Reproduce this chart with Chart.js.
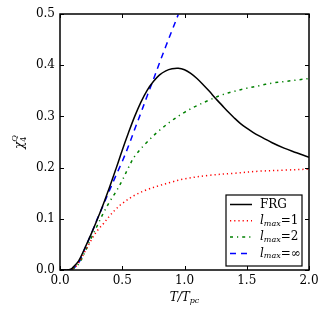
<!DOCTYPE html>
<html>
<head>
<meta charset="utf-8">
<script src="https://cdn.jsdelivr.net/npm/chart.js@4"></script>
<style>
  html, body { margin: 0; padding: 0; background: #fff; }
</style>
</head>
<body>
<canvas id="chi4" width="327" height="319"></canvas>
<script>
// T/Tpc grid and chi_4^Q values
const tFrg = [0, 0.05, 0.08, 0.1, 0.15, 0.2, 0.25, 0.3, 0.35, 0.4, 0.45, 0.5, 0.55, 0.6, 0.65, 0.7, 0.75, 0.8, 0.85, 0.9, 0.95, 1.0, 1.05, 1.1, 1.15, 1.2, 1.25, 1.3, 1.35, 1.4, 1.45, 1.5, 1.55, 1.6, 1.7, 1.8, 1.9, 2.0];
const chiFrg = [0, 0, 0.001, 0.004, 0.018, 0.043, 0.07, 0.099, 0.13, 0.163, 0.198, 0.234, 0.268, 0.300, 0.328, 0.351, 0.368, 0.381, 0.389, 0.393, 0.394, 0.391, 0.384, 0.374, 0.362, 0.349, 0.335, 0.322, 0.309, 0.297, 0.286, 0.277, 0.269, 0.262, 0.249, 0.238, 0.229, 0.22];

const tL1 = [0, 0.05, 0.1, 0.15, 0.2, 0.25, 0.3, 0.35, 0.4, 0.45, 0.5, 0.6, 0.7, 0.8, 0.9, 1.0, 1.2, 1.4, 1.6, 1.8, 2.0];
const chiL1 = [0, 0, 0.002, 0.014, 0.036, 0.058, 0.077, 0.091, 0.106, 0.119, 0.13, 0.146, 0.157, 0.165, 0.172, 0.178, 0.185, 0.189, 0.193, 0.195, 0.197];

const tL2 = [0, 0.05, 0.1, 0.15, 0.2, 0.25, 0.3, 0.35, 0.4, 0.45, 0.5, 0.55, 0.6, 0.7, 0.8, 0.9, 1.0, 1.1, 1.2, 1.3, 1.4, 1.5, 1.6, 1.7, 1.8, 1.9, 2.0];
const chiL2 = [0, 0, 0.002, 0.012, 0.035, 0.062, 0.087, 0.112, 0.134, 0.153, 0.175, 0.2, 0.222, 0.25, 0.273, 0.292, 0.308, 0.321, 0.332, 0.342, 0.349, 0.355, 0.36, 0.365, 0.368, 0.371, 0.374];

const tLinf = [0, 0.05, 0.1, 0.15, 0.2, 0.25, 0.3, 0.35, 0.4, 0.45, 0.5, 0.55, 0.6, 0.65, 0.7, 0.75, 0.8, 0.85, 0.9, 0.95];
const chiLinf = [0, 0, 0.002, 0.014, 0.042, 0.07, 0.1, 0.128, 0.157, 0.185, 0.212, 0.242, 0.275, 0.307, 0.34, 0.372, 0.405, 0.437, 0.468, 0.499];

const xTicks = [0, 0.5, 1.0, 1.5, 2.0];
const yTicks = [0, 0.1, 0.2, 0.3, 0.4, 0.5];

const SERIF = '"DejaVu Serif", serif';
const pts = (xs, ys) => xs.map((x, i) => ({ x, y: ys[i] }));

function line(label, xs, ys, color, dash, width) {
  return {
    label,
    data: pts(xs, ys),
    borderColor: color,
    borderWidth: width,
    borderDash: dash,
    pointRadius: 0,
    fill: false,
    tension: 0.35,
  };
}

// draw a run of text pieces: [text, font, dy]
function drawRuns(ctx, runs, x, y, align) {
  let w = 0;
  runs.forEach(r => { ctx.font = r[1]; w += ctx.measureText(r[0]).width; });
  let cx = align === 'center' ? x - w / 2 : x;
  ctx.textAlign = 'left';
  ctx.textBaseline = 'middle';
  runs.forEach(r => {
    ctx.font = r[1];
    ctx.fillText(r[0], cx, y + (r[2] || 0));
    cx += ctx.measureText(r[0]).width;
  });
}

const lmax = (n) => [
  ['l', 'italic 12px ' + SERIF, 0],
  ['max', 'italic 8px ' + SERIF, 3],
  ['=' + n, '12px ' + SERIF, 0],
];

const decor = {
  id: 'decor',
  afterDraw(chart) {
    const { ctx, chartArea: a, scales: { x, y } } = chart;
    ctx.save();
    ctx.strokeStyle = '#000';
    ctx.fillStyle = '#000';

    // inward ticks on all four sides
    ctx.lineWidth = 1;
    ctx.beginPath();
    xTicks.forEach(v => {
      const px = Math.round(x.getPixelForValue(v)) + 0.5;
      ctx.moveTo(px, a.bottom); ctx.lineTo(px, a.bottom - 4);
      ctx.moveTo(px, a.top); ctx.lineTo(px, a.top + 4);
    });
    yTicks.forEach(v => {
      const py = Math.round(y.getPixelForValue(v)) + 0.5;
      ctx.moveTo(a.left, py); ctx.lineTo(a.left + 4, py);
      ctx.moveTo(a.right, py); ctx.lineTo(a.right - 4, py);
    });
    ctx.stroke();

    // frame
    ctx.lineWidth = 1.5;
    ctx.strokeRect(a.left, a.top, a.right - a.left, a.bottom - a.top);

    // legend box
    const bx = a.right - 83, by = a.bottom - 75, bw = 76, bh = 71;
    ctx.fillStyle = '#fff';
    ctx.fillRect(bx, by, bw, bh);
    ctx.lineWidth = 1.2;
    ctx.strokeStyle = '#000';
    ctx.strokeRect(bx, by, bw, bh);
    const rows = [
      [['FRG', '12px ' + SERIF, 0]],
      lmax('1'),
      lmax('2'),
      lmax('∞'),
    ];
    chart.data.datasets.forEach((ds, i) => {
      const ly = by + 9.5 + i * 16.3;
      ctx.strokeStyle = ds.borderColor;
      ctx.lineWidth = ds.borderWidth;
      ctx.setLineDash(ds.borderDash || []);
      ctx.beginPath();
      ctx.moveTo(bx + 4, ly);
      ctx.lineTo(bx + 26, ly);
      ctx.stroke();
      ctx.setLineDash([]);
      ctx.fillStyle = '#000';
      drawRuns(ctx, rows[i], bx + 34, ly, 'left');
    });

    // axis titles
    ctx.fillStyle = '#000';
    drawRuns(ctx, [
      ['T/T', 'italic 12px ' + SERIF, 0],
      ['pc', 'italic 8px ' + SERIF, 3],
    ], (a.left + a.right) / 2, 298, 'center');

    ctx.translate(20, (a.top + a.bottom) / 2);
    ctx.rotate(-Math.PI / 2);
    ctx.font = 'italic 12px ' + SERIF;
    ctx.textBaseline = 'middle';
    ctx.textAlign = 'left';
    const cw = ctx.measureText('χ').width;
    ctx.fillText('χ', -7, 0);
    ctx.font = '8px ' + SERIF;
    ctx.fillText('4', -7 + cw, 4);
    ctx.font = 'italic 8px ' + SERIF;
    ctx.fillText('Q', -7 + cw, -5);
    ctx.restore();
  }
};

new Chart(document.getElementById('chi4'), {
  type: 'line',
  data: {
    datasets: [
      line('FRG', tFrg, chiFrg, '#000000', [], 1.5),
      line('lmax=1', tL1, chiL1, '#ff0000', [1.2, 3], 1.5),
      line('lmax=2', tL2, chiL2, '#008000', [3, 4, 1.2, 4], 1.5),
      line('lmax=inf', tLinf, chiLinf, '#0000ff', [6, 5], 1.5),
    ]
  },
  options: {
    responsive: false,
    animation: false,
    layout: { padding: { left: 0, right: 18, top: 14, bottom: 0 } },
    plugins: { legend: { display: false }, tooltip: { enabled: false } },
    scales: {
      x: {
        type: 'linear', min: 0, max: 2,
        afterFit: s => { s.height = 49; },
        grid: { display: false, drawTicks: false, tickLength: 0 },
        border: { display: false },
        ticks: {
          stepSize: 0.5, padding: 4, color: '#000',
          font: { family: SERIF, size: 12 },
          maxRotation: 0,
          callback: v => v.toFixed(1),
        }
      },
      y: {
        type: 'linear', min: 0, max: 0.5,
        afterFit: s => { s.width = 60; },
        grid: { display: false, drawTicks: false, tickLength: 0 },
        border: { display: false },
        ticks: {
          stepSize: 0.1, padding: 5, color: '#000',
          font: { family: SERIF, size: 12 },
          callback: v => v.toFixed(1),
        }
      }
    }
  },
  plugins: [decor]
});
</script>
</body>
</html>
